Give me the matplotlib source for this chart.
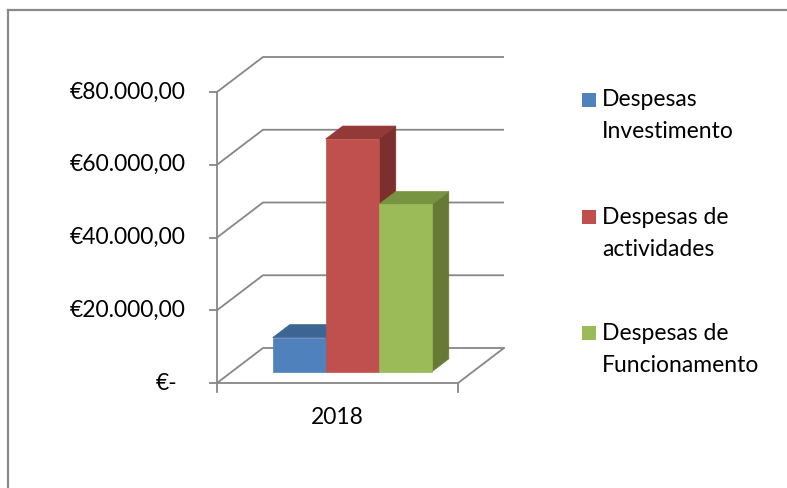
import matplotlib
matplotlib.use("Agg")
import matplotlib.pyplot as plt
from matplotlib.patches import Polygon
from matplotlib.lines import Line2D

# ---- data ----
category = "2018"
series_names = ["Despesas\nInvestimento", "Despesas de\nactividades", "Despesas de\nFuncionamento"]
values = [9400, 64000, 46000]
y_ticks = [0, 20000, 40000, 60000, 80000]
y_tick_labels = ["€-", "€20.000,00", "€40.000,00", "€60.000,00", "€80.000,00"]

front_colors = ["#4F81BD", "#C0504D", "#9BBB59"]
top_colors = ["#3D6594", "#933A38", "#789440"]
side_colors = ["#34557E", "#7D2F2E", "#667A36"]

W, H = 787, 488
fig = plt.figure(figsize=(W / 100, H / 100), dpi=100)
plt.rcParams['font.family'] = ['Lato', 'DejaVu Sans']
FS = 16.5

# front plane of the 3D box (pixels)
x_left, x_right = 217, 458
y_bot, y_top = 383, 92
ax = fig.add_axes([x_left / W, 1 - y_bot / H, (x_right - x_left) / W, (y_bot - y_top) / H])
ymax = y_ticks[-1]
ax.set_xlim(0, 1)
ax.set_ylim(0, ymax)
ax.axis("off")

# oblique depth offset (full depth)
DX = 46 / (x_right - x_left)
DY = 35 / (y_bot - y_top) * ymax


def proj(x, v, d):
    return (x + d * DX, v + d * DY)


grid_c = "#878787"
lw = 1.3

# walls / gridlines
for v in y_ticks:
    p0 = proj(0, v, 0)
    p1 = proj(0, v, 1)
    p2 = proj(1, v, 1)
    ax.plot([p0[0], p1[0], p2[0]], [p0[1], p1[1], p2[1]], color=grid_c, lw=lw,
            clip_on=False, solid_capstyle="butt", zorder=1)
# floor front and right edges
f0, f1, f2 = proj(0, 0, 0), proj(1, 0, 0), proj(1, 0, 1)
ax.plot([f0[0], f1[0], f2[0]], [f0[1], f1[1], f2[1]], color=grid_c, lw=lw, clip_on=False, zorder=1)

# vertical axis with ticks
px_v = ymax / (y_bot - y_top)
px_h = 1 / (x_right - x_left)
ax.plot([0, 0], [-9 * px_v, ymax], color=grid_c, lw=lw, clip_on=False, zorder=5)
for v in y_ticks:
    ax.plot([-7 * px_h, 0], [v, v], color=grid_c, lw=lw, clip_on=False, zorder=5)
ax.plot([1, 1], [-9 * px_v, 0], color=grid_c, lw=lw, clip_on=False, zorder=5)

# tick labels
for v, lab in zip(y_ticks, y_tick_labels):
    xo = -31 * px_h if v != 0 else -40 * px_h
    ax.text(xo, v, lab, ha="right", va="center", fontsize=FS, color="#000000")
ax.text(0.5, -34 * px_v, category, ha="center", va="center", fontsize=FS, color="#000000")

# bars
n = len(values)
bw = 0.22
x_start = 0.5 - n * bw / 2
d0, d1 = 0.32, 0.69
for i, (v, fc, tc, sc) in enumerate(zip(values, front_colors, top_colors, side_colors)):
    x0 = x_start + i * bw
    x1 = x0 + bw
    z = 10 + i
    front = [proj(x0, 0, d0), proj(x1, 0, d0), proj(x1, v, d0), proj(x0, v, d0)]
    top = [proj(x0, v, d0), proj(x1, v, d0), proj(x1, v, d1), proj(x0, v, d1)]
    side = [proj(x1, 0, d0), proj(x1, 0, d1), proj(x1, v, d1), proj(x1, v, d0)]
    for poly, col in ((side, sc), (top, tc), (front, fc)):
        ax.add_patch(Polygon(poly, closed=True, facecolor=col, edgecolor=col,
                             lw=0.5, clip_on=False, zorder=z))

# legend
leg_lines_y = [100, 217, 333]
for name, col, yc in zip(series_names, front_colors, leg_lines_y):
    sq = plt.Rectangle((582 / W, 1 - (yc + 7) / H), 14 / W, 14 / H, transform=fig.transFigure,
                       facecolor=col, edgecolor="none")
    fig.patches.append(sq)
    l1, l2 = name.split("\n")
    fig.text(602 / W, 1 - yc / H, l1, ha="left", va="center", fontsize=FS, color="#000000")
    fig.text(602 / W, 1 - (yc + 32) / H, l2, ha="left", va="center", fontsize=FS, color="#000000")

# chart area border (left and top edges visible)
fig.add_artist(Line2D([8 / W, 8 / W], [0, 1 - 10 / H], transform=fig.transFigure,
                      color="#898989", lw=1.6))
fig.add_artist(Line2D([8 / W, 1], [1 - 10 / H, 1 - 10 / H], transform=fig.transFigure,
                      color="#898989", lw=1.6))

fig.savefig("out.png", dpi=100, facecolor="white")
